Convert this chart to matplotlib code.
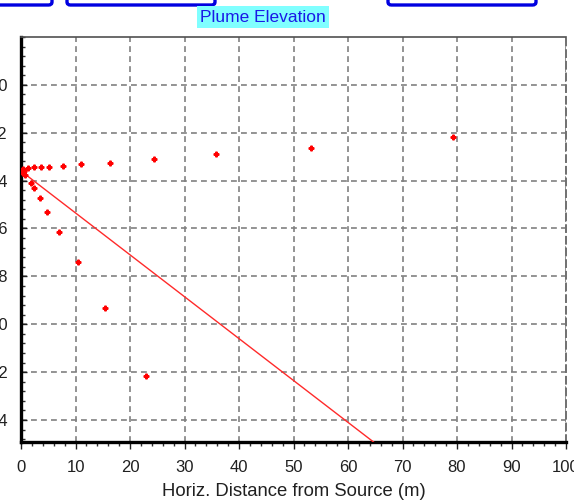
import matplotlib.pyplot as plt
from matplotlib.patches import FancyBboxPatch
from matplotlib.ticker import AutoMinorLocator

# upper row of plume points (distance m, depth m)
upper_x = [0.1, 0.2, 0.4, 0.6, 1.3, 2.4, 3.6, 5.1, 7.7, 11.1, 16.4, 24.4, 35.8, 53.2, 79.3]
upper_y = [13.55, 13.65, 13.5, 13.6, 13.48, 13.43, 13.43, 13.43, 13.4, 13.32, 13.26, 13.1, 12.89, 12.63, 12.19]

# lower row of plume points
lower_x = [0.3, 0.7, 1.8, 2.4, 3.4, 4.8, 7.0, 10.5, 15.4, 22.9]
lower_y = [13.7, 13.78, 14.11, 14.31, 14.72, 15.32, 16.16, 17.42, 19.33, 22.16]

# straight trajectory line
line_x = [0.0, 100.0]
line_y = [13.6, 31.1]

xticks = list(range(0, 101, 10))
yticks = list(range(10, 25, 2))

plt.rcParams['font.family'] = ['Liberation Sans', 'DejaVu Sans']

fig = plt.figure(figsize=(5.74, 5.04), dpi=100)
ax = fig.add_axes([21 / 574, 1 - 442 / 504, 545 / 574, 405 / 504])

ax.plot(line_x, line_y, color='#ff2a2a', lw=1.0, zorder=3)
ax.plot(upper_x, upper_y, ls='none', marker='P', ms=3.4, color='#ff0000',
        mec='#ff0000', zorder=4)
ax.plot(lower_x, lower_y, ls='none', marker='P', ms=3.4, color='#ff0000',
        mec='#ff0000', zorder=4)

ax.set_xlim(0, 100)
ax.set_ylim(24.92, 8.0)
ax.set_xticks(xticks)
ax.set_yticks(yticks)
ax.xaxis.set_minor_locator(AutoMinorLocator(5))
ax.yaxis.set_minor_locator(AutoMinorLocator(5))

ax.grid(True, which='major', color='#808080', ls=(0, (3.5, 2.5)), lw=1.2)
ax.tick_params(axis='x', which='major', direction='out', length=5, width=1,
               labelsize=12, pad=8, colors='#202020')
ax.tick_params(axis='x', which='minor', direction='out', length=3, width=1,
               colors='#303030')
ax.tick_params(axis='y', which='major', direction='in', length=4, width=1,
               labelsize=12, pad=9.5, colors='#202020')
ax.tick_params(axis='y', which='minor', direction='in', length=3, width=1,
               colors='#303030')

for side in ('left', 'bottom'):
    ax.spines[side].set_linewidth(2.4)
    ax.spines[side].set_color('black')
ax.spines['top'].set_color('#505050')
ax.spines['top'].set_linewidth(1.2)
ax.spines['right'].set_color('#707070')
ax.spines['right'].set_linewidth(1.4)
ax.spines['right'].set_linestyle((0, (3.5, 2.5)))

ax.set_xlabel('Horiz. Distance from Source (m)', fontsize=13.3, labelpad=6,
              color='#202020')

fig.text(263 / 574, 1 - 17 / 504, 'Plume Elevation', ha='center', va='center',
         fontsize=12.5, color='#1a1ae6',
         bbox=dict(boxstyle='square,pad=0.2', fc='#80ffff', ec='none'))

# cropped window buttons along the top edge
for x0, x1 in [(-10, 52), (67, 215), (388, 536)]:
    box = FancyBboxPatch((x0 / 574, 1 - 5 / 504), (x1 - x0) / 574, 20 / 504,
                         boxstyle='round,pad=0,rounding_size=0.006',
                         transform=fig.transFigure, fc='white', ec='#0000e0',
                         lw=2.4, clip_on=False)
    fig.patches.append(box)

fig.savefig('out.png', dpi=100)
